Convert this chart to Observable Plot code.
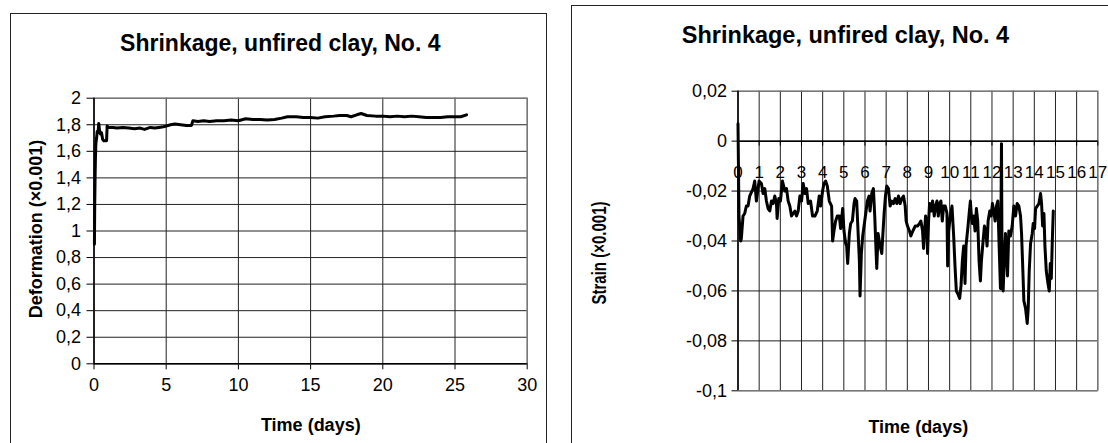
<!DOCTYPE html>
<html>
<head>
<meta charset="utf-8">
<script src="https://cdn.jsdelivr.net/npm/d3@7"></script>
<script src="https://cdn.jsdelivr.net/npm/@observablehq/plot@0.6"></script>
<style>
  html, body { margin: 0; padding: 0; background: #fff; }
  #root { position: relative; width: 1108px; height: 443px; overflow: hidden; background: #fff;
          font-family: 'Liberation Sans', Arial, sans-serif; color: #000; }
  .frame { position: absolute; border: 1px solid #222; box-sizing: border-box; }
  .txt { position: absolute; white-space: nowrap; line-height: 1; font-weight: bold; }
  .plotbox { position: absolute; top: 0; }
</style>
</head>
<body>
<div id="root">
  <div class="frame" style="left:10px; top:13px; width:537px; height:450px;"></div>
  <div class="frame" style="left:571px; top:5px; width:560px; height:460px;"></div>
  <div id="leftPlot" class="plotbox" style="left:0px;"></div>
  <div id="rightPlot" class="plotbox" style="left:555px;"></div>
  <div class="txt" id="t1" style="left:280.3px; top:32.2px; font-size:23px; transform:translateX(-50%);"></div>
  <div class="txt" id="t2" style="left:845.5px; top:24.4px; font-size:23.5px; transform:translateX(-50%);"></div>
  <div class="txt" id="xl1" style="left:310.8px; top:415.8px; font-size:18px; transform:translateX(-50%);"></div>
  <div class="txt" id="xl2" style="left:918.3px; top:417.5px; font-size:18px; transform:translateX(-50%);"></div>
  <div class="txt" id="yl1" style="left:35.5px; top:229px; font-size:18px; transform:translate(-50%,-50%) rotate(-90deg);"></div>
  <div class="txt" id="yl2" style="left:597.7px; top:252.5px; font-size:15px; transform:translate(-50%,-50%) rotate(-90deg) scaleY(1.4);"></div>
</div>
<script>
// ---------- text ----------
const chartTitle = "Shrinkage, unfired clay, No. 4";
const xTitle = "Time (days)";
const leftYTitle = "Deformation (×0.001)";
const rightYTitle = "Strain (×0.001)";

// ---------- left chart: deformation ----------
const leftXTicks = [0, 5, 10, 15, 20, 25, 30];
const leftYTicks = [0, 0.2, 0.4, 0.6, 0.8, 1, 1.2, 1.4, 1.6, 1.8, 2];
const leftTime = [0.03, 0.05, 0.08, 0.10, 0.13, 0.18, 0.22, 0.28, 0.33, 0.38, 0.45, 0.52, 0.60, 0.68, 0.80, 0.87, 0.91,
  1.0, 1.3, 1.6, 2.0, 2.4, 2.8, 3.2, 3.5, 3.9, 4.2, 4.5, 4.8, 5.0, 5.3, 5.6, 6.0, 6.4, 6.75, 6.85,
  7.2, 7.6, 8.0, 8.5, 9.0, 9.5, 10.0, 10.5, 11.0, 11.5, 12.0, 12.5, 13.0, 13.4, 14.0, 14.5, 15.0, 15.5,
  16.0, 16.6, 17.0, 17.5, 17.8, 18.2, 18.5, 18.9, 19.5, 20.0, 20.5, 21.0, 21.5, 22.0, 22.5, 23.0, 23.5,
  24.0, 24.5, 25.0, 25.4, 25.8];
const leftDeformation = [0.90, 1.20, 1.44, 1.55, 1.66, 1.70, 1.75, 1.74, 1.81, 1.76, 1.73, 1.74, 1.69, 1.68, 1.68, 1.68, 1.79,
  1.78, 1.78, 1.775, 1.78, 1.775, 1.77, 1.775, 1.765, 1.78, 1.775, 1.78, 1.785, 1.79, 1.80, 1.805, 1.80, 1.795, 1.795, 1.83,
  1.825, 1.83, 1.825, 1.83, 1.83, 1.835, 1.83, 1.845, 1.84, 1.84, 1.835, 1.84, 1.85, 1.86, 1.86, 1.855, 1.855, 1.85,
  1.86, 1.865, 1.87, 1.87, 1.86, 1.875, 1.885, 1.87, 1.865, 1.865, 1.86, 1.865, 1.86, 1.865, 1.86, 1.855, 1.855,
  1.855, 1.86, 1.86, 1.86, 1.875];

// ---------- right chart: strain ----------
const rightXTicks = [0, 1, 2, 3, 4, 5, 6, 7, 8, 9, 10, 11, 12, 13, 14, 15, 16, 17];
const rightYTicks = [0.02, 0, -0.02, -0.04, -0.06, -0.08, -0.1];
const rightTime = [0, 0.047, 0.126, 0.158, 0.237, 0.316, 0.395, 0.474, 0.553, 0.711, 0.790, 0.869, 0.995,
  1.106, 1.185, 1.264, 1.343, 1.422, 1.501, 1.580, 1.659, 1.738, 1.817, 1.848, 1.927, 2.006, 2.101, 2.212,
  2.291, 2.370, 2.449, 2.528, 2.686, 2.765, 2.844, 2.923, 3.002, 3.081, 3.160, 3.239, 3.318, 3.428, 3.523,
  3.633, 3.744, 3.839, 3.902, 3.997, 4.060, 4.139, 4.218, 4.313, 4.423, 4.471, 4.534, 4.613, 4.692, 4.787,
  4.850, 4.945, 5.008, 5.087, 5.134, 5.182, 5.261, 5.324, 5.403, 5.482, 5.529, 5.608, 5.671, 5.735, 5.766,
  5.829, 5.893, 5.972, 6.051, 6.114, 6.193, 6.240, 6.319, 6.398, 6.461, 6.509, 6.556, 6.619, 6.714, 6.793,
  6.840, 6.904, 6.967, 7.030, 7.109, 7.188, 7.267, 7.346, 7.425, 7.504, 7.583, 7.662, 7.741, 7.820, 7.899,
  7.946, 8.009, 8.104, 8.167, 8.262, 8.373, 8.483, 8.578, 8.641, 8.720, 8.768, 8.815, 8.863, 8.926, 8.957,
  9.005, 9.052, 9.131, 9.194, 9.273, 9.336, 9.400, 9.463, 9.526, 9.589, 9.652, 9.716, 9.795, 9.874, 9.905,
  9.953, 10.032, 10.111, 10.190, 10.253, 10.316, 10.379, 10.474, 10.537, 10.600, 10.664, 10.727, 10.774,
  10.821, 10.869, 10.932, 10.979, 11.027, 11.074, 11.137, 11.201, 11.264, 11.327, 11.390, 11.453, 11.501,
  11.580, 11.643, 11.706, 11.769, 11.817, 11.896, 11.959, 12.022, 12.085, 12.148, 12.212, 12.275, 12.338,
  12.401, 12.449, 12.480, 12.528, 12.591, 12.638, 12.685, 12.733, 12.796, 12.875, 12.954, 13.033, 13.112,
  13.191, 13.270, 13.349, 13.397, 13.460, 13.507, 13.586, 13.665, 13.712, 13.760, 13.823, 13.902, 13.949,
  14.013, 14.060, 14.139, 14.218, 14.297, 14.344, 14.392, 14.455, 14.502, 14.566, 14.645, 14.708, 14.755,
  14.803, 14.850, 14.897];
const rightStrain = [0.007, -0.030, -0.040, -0.039, -0.030, -0.029, -0.026, -0.026, -0.022, -0.019, -0.016, -0.024, -0.016,
  -0.017, -0.021, -0.019, -0.024, -0.027, -0.028, -0.024, -0.025, -0.022, -0.025, -0.031, -0.023, -0.024, -0.016, -0.020,
  -0.019, -0.024, -0.026, -0.030, -0.028, -0.030, -0.028, -0.022, -0.024, -0.017, -0.021, -0.019, -0.025, -0.024, -0.030,
  -0.030, -0.028, -0.022, -0.026, -0.020, -0.017, -0.016, -0.018, -0.024, -0.026, -0.040, -0.036, -0.032, -0.030, -0.030,
  -0.035, -0.027, -0.036, -0.041, -0.042, -0.049, -0.037, -0.033, -0.032, -0.025, -0.023, -0.024, -0.036, -0.048, -0.062,
  -0.045, -0.038, -0.033, -0.028, -0.024, -0.022, -0.028, -0.021, -0.019, -0.030, -0.041, -0.051, -0.037, -0.042, -0.045,
  -0.038, -0.029, -0.022, -0.018, -0.019, -0.026, -0.024, -0.025, -0.023, -0.025, -0.022, -0.025, -0.023, -0.022, -0.026,
  -0.032, -0.034, -0.036, -0.038, -0.036, -0.034, -0.034, -0.033, -0.032, -0.036, -0.043, -0.036, -0.030, -0.034, -0.045,
  -0.032, -0.025, -0.028, -0.024, -0.030, -0.026, -0.024, -0.030, -0.025, -0.024, -0.032, -0.026, -0.026, -0.029, -0.050,
  -0.036, -0.030, -0.026, -0.038, -0.050, -0.060, -0.061, -0.063, -0.058, -0.048, -0.042, -0.057, -0.042,
  -0.038, -0.034, -0.028, -0.024, -0.030, -0.033, -0.030, -0.036, -0.027, -0.032, -0.048, -0.056, -0.048,
  -0.040, -0.034, -0.036, -0.042, -0.032, -0.028, -0.030, -0.025, -0.028, -0.032, -0.026, -0.024, -0.042,
  -0.059, -0.001, -0.056, -0.060, -0.045, -0.037, -0.045, -0.054, -0.036, -0.038, -0.034, -0.026, -0.030,
  -0.025, -0.026, -0.030, -0.037, -0.052, -0.064, -0.067, -0.073, -0.067, -0.052, -0.041, -0.037, -0.033,
  -0.035, -0.027, -0.026, -0.025, -0.021, -0.025, -0.034, -0.029, -0.042, -0.052, -0.057, -0.060, -0.049,
  -0.055, -0.040, -0.028];

// ---------- build ----------
document.getElementById("t1").textContent = chartTitle;
document.getElementById("t2").textContent = chartTitle;
document.getElementById("xl1").textContent = xTitle;
document.getElementById("xl2").textContent = xTitle;
document.getElementById("yl1").textContent = leftYTitle;
document.getElementById("yl2").textContent = rightYTitle;

const commaFmt = d => String(d).replace(".", ",");
const plotStyle = {fontFamily: "'Liberation Sans', Arial, sans-serif", background: "transparent", overflow: "visible", color: "#000"};

const leftData = leftTime.map((t, i) => ({t, v: leftDeformation[i]}));
const rightData = rightTime.map((t, i) => ({t, v: rightStrain[i]}));

const leftChart = Plot.plot({
  width: 550, height: 443,
  marginLeft: 93.5, marginRight: 23.3, marginTop: 97.7, marginBottom: 79.7,
  x: {domain: [0, 30]},
  y: {domain: [0, 2]},
  style: plotStyle,
  marks: [
    Plot.ruleY(leftYTicks, {stroke: "#222"}),
    Plot.ruleX(leftXTicks, {stroke: "#222"}),
    Plot.frame({stroke: "#808080"}),
    Plot.ruleX([0], {stroke: "#000", strokeWidth: 1.5}),
    Plot.ruleY([0], {stroke: "#000", strokeWidth: 1.5}),
    Plot.line(leftData, {x: "t", y: "v", stroke: "#000", strokeWidth: 3, strokeLinejoin: "round"}),
    Plot.axisY({ticks: leftYTicks, tickSize: 7, tickPadding: 6, tickFormat: commaFmt, fontSize: 18, label: null}),
    Plot.axisX({ticks: leftXTicks, tickSize: 6, tickPadding: 8.4, tickFormat: d => String(d), fontSize: 18, label: null})
  ]
});
document.getElementById("leftPlot").append(leftChart);

const rightChart = Plot.plot({
  width: 553, height: 443,
  marginLeft: 182.5, marginRight: 10.7, marginTop: 90.7, marginBottom: 52.7,
  x: {domain: [0, 17]},
  y: {domain: [-0.1, 0.02]},
  style: plotStyle,
  marks: [
    Plot.ruleY(rightYTicks, {stroke: "#222"}),
    Plot.ruleX(rightXTicks, {stroke: "#222"}),
    Plot.frame({stroke: "#808080"}),
    Plot.ruleX([0], {stroke: "#000", strokeWidth: 1.5}),
    Plot.ruleY([0], {stroke: "#000", strokeWidth: 1.5}),
    Plot.line(rightData, {x: "t", y: "v", stroke: "#000", strokeWidth: 3, strokeLinejoin: "round"}),
    Plot.axisY({ticks: rightYTicks, tickSize: 6, tickPadding: 5, tickFormat: commaFmt, fontSize: 18, label: null}),
    Plot.axisX({ticks: rightXTicks, y: 0, tickSize: 5, tickPadding: 20, tickFormat: d => String(d), fontSize: 17, label: null})
  ]
});
document.getElementById("rightPlot").append(rightChart);
</script>
</body>
</html>
